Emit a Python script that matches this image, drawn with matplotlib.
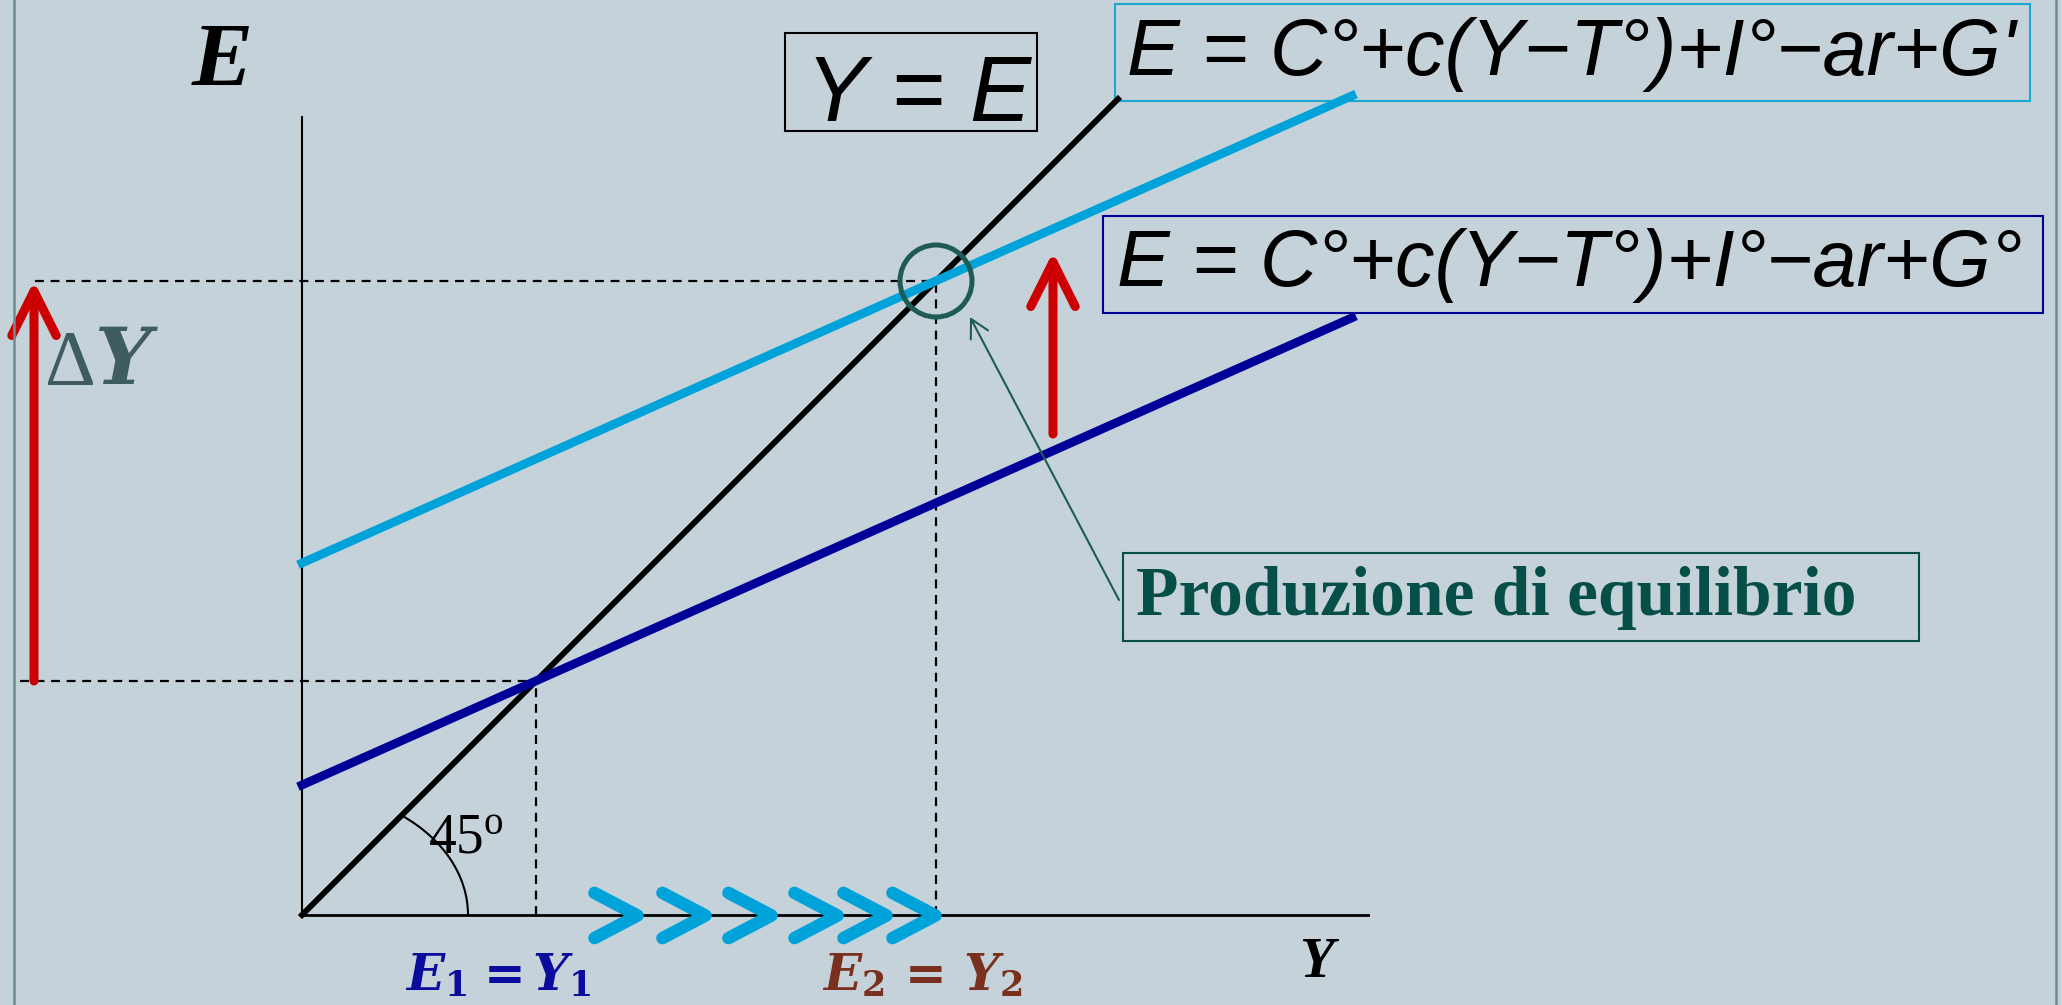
import matplotlib
matplotlib.use("Agg")
import matplotlib.pyplot as plt
from matplotlib.patches import Rectangle, Circle, Arc, FancyArrowPatch
from matplotlib.markers import MarkerStyle
from matplotlib.path import Path
from matplotlib.lines import Line2D

# diagram values, in axis units (output Y across, spending E up)
mpc = 0.445                    # slope c of both spending lines
intercepts = [13.0, 35.2]      # spending at Y = 0 with G° and with G'
y_end = 105.0                  # where the spending lines stop
diag_end = 81.6                # where the 45 degree line stops
y_eq = [23.4, 63.4]            # E1 = Y1 and E2 = Y2
chevron_y = [33.5, 40.3, 46.9, 53.5, 58.4, 63.3]
shift_x = 75.1                 # upward shift of the spending line
shift_from, shift_to = 48.1, 66.3
delta_x = -26.8                # Delta Y arrow on the left
y_axis_top = 79.8
x_axis_end = 106.6

BG = "#C6D2D9"
LIGHT = "#00A3D9"
DARK = "#000099"
RED = "#CC0000"
TEAL = "#1E5B57"
TEXT_TEAL = "#064F49"

plt.rcParams["mathtext.fontset"] = "custom"
plt.rcParams["mathtext.rm"] = "Liberation Serif"
plt.rcParams["mathtext.it"] = "Liberation Serif:italic"
plt.rcParams["mathtext.bf"] = "DejaVu Serif:bold"
plt.rcParams["mathtext.bfit"] = "DejaVu Serif:italic:bold"


def at(px, py):
    # picture pixel -> axis units (origin of the diagram at pixel 302, 915)
    return (px - 302) / 10, (915 - py) / 10


fig = plt.figure(figsize=(20.62, 10.05), dpi=100)
fig.patch.set_facecolor(BG)
ax = fig.add_axes([0, 0, 1, 1])
ax.set_facecolor(BG)
ax.set_xlim(-30.2, 176.0)
ax.set_ylim(-9.0, 91.5)
ax.axis("off")

# slide frame
fig.add_artist(Line2D([14 / 2062] * 2, [0, 1], color="#6E8E8E", lw=1.8))
fig.add_artist(Line2D([2056 / 2062] * 2, [0, 1], color="#6E8E8E", lw=1.8))

# axes
ax.plot([0, 0], [0, y_axis_top], color="k", lw=1.5, zorder=2)
ax.plot([0, x_axis_end], [0, 0], color="k", lw=2, zorder=2)

# dashed guides
dash = dict(color="k", lw=1.6, ls=(0, (4, 3)), zorder=1)
ax.plot([-28.2, y_eq[0]], [y_eq[0], y_eq[0]], **dash)
ax.plot([y_eq[0], y_eq[0]], [0, y_eq[0]], **dash)
ax.plot([-26.7, y_eq[1]], [y_eq[1], y_eq[1]], **dash)
ax.plot([y_eq[1], y_eq[1]], [0, y_eq[1]], **dash)

# 45 degree line and spending lines
ax.plot([0, diag_end], [0, diag_end], color="k", lw=4.2, zorder=3)
for a, col in zip(intercepts, [DARK, LIGHT]):
    ax.plot([0, y_end], [a, a + mpc * y_end], color=col, lw=6.3, zorder=4)

# 45 degree arc
ax.add_patch(Arc((0, 0), 33.2, 24.9, theta1=0, theta2=45, color="k", lw=1.5, zorder=3))
ax.text(*at(428, 852), r"45$^{\mathrm{o}}$", fontfamily="Liberation Serif",
        fontsize=40, va="baseline", zorder=6)

# equilibrium circle
ax.add_patch(Circle((y_eq[1], y_eq[1]), 3.6, fill=False, ec=TEAL, lw=3.6, zorder=5))

# chevrons along the Y axis
chev = Path([(-2.0, 1.05), (0, 0), (-2.0, -1.05)], [Path.MOVETO, Path.LINETO, Path.LINETO])
ms = MarkerStyle(chev, joinstyle="round", capstyle="round")
ax.plot(chevron_y, [0] * len(chevron_y), ls="none", marker=ms, markersize=62,
        mec=LIGHT, mfc="none", mew=9, zorder=5)

# red arrows
red_style = "->,head_length=3.2,head_width=1.6"
for x0, y0, y1 in [(delta_x, y_eq[0], y_eq[1]), (shift_x, shift_from, shift_to)]:
    ax.add_patch(FancyArrowPatch((x0, y0), (x0, y1), arrowstyle=red_style,
                                 mutation_scale=10, lw=6.5, color=RED,
                                 capstyle="round", joinstyle="round",
                                 shrinkA=0, shrinkB=0, zorder=6))

# pointer from label to the circle
ax.add_patch(FancyArrowPatch(at(1119, 600), at(970, 317),
                             arrowstyle="->,head_length=1.3,head_width=0.7",
                             mutation_scale=10, lw=1.5, color=TEAL,
                             shrinkA=0, shrinkB=0, zorder=6))

# axis labels
serif_bi = dict(fontfamily="Liberation Serif", fontweight="bold", fontstyle="italic",
                va="baseline", color="k")
ax.text(*at(192, 86), "E", fontsize=66, **serif_bi)
ax.text(*at(1299, 977), "Y", fontsize=41, **serif_bi)

ax.text(*at(44, 384), r"$\Delta\mathbfit{Y}$", fontsize=57, color="#3F5C5E", va="baseline")
ax.text(*at(405, 990), r"$\mathbfit{E}_{\mathbf{1}}\,\mathbf{=}\mathbfit{Y}_{\mathbf{1}}$",
        fontsize=36, color="#0B0B9E", va="baseline")
ax.text(*at(822, 990), r"$\mathbfit{E}_{\mathbf{2}}\;\mathbf{=}\;\mathbfit{Y}_{\mathbf{2}}$",
        fontsize=36, color="#7A301E", va="baseline")

# boxed equations
sans_i = dict(fontfamily="Liberation Sans", fontstyle="italic", va="baseline", color="k")
ax.text(*at(806, 121), "Y = E", fontsize=66, **sans_i)
ax.add_patch(Rectangle(at(785, 131), 25.2, 9.8, fill=False, ec="k", lw=1.5))

ax.text(*at(1127, 75), "E = C°+c(Y−T°)+I°−ar+G'", fontsize=57, **sans_i)
ax.add_patch(Rectangle(at(1115, 101), 91.5, 9.7, fill=False, ec="#1AA7D4", lw=1.5))

ax.text(*at(1117, 286), "E = C°+c(Y−T°)+I°−ar+G°", fontsize=57, **sans_i)
ax.add_patch(Rectangle(at(1103, 313), 94.0, 9.7, fill=False, ec=DARK, lw=1.5))

ax.text(*at(1136, 615), "Produzione di equilibrio", fontfamily="Liberation Serif",
        fontweight="bold", fontsize=50, color=TEXT_TEAL, va="baseline")
ax.add_patch(Rectangle(at(1123, 641), 79.6, 8.8, fill=False, ec=TEXT_TEAL, lw=1.5))

fig.savefig("out.png", dpi=100, facecolor=BG)
